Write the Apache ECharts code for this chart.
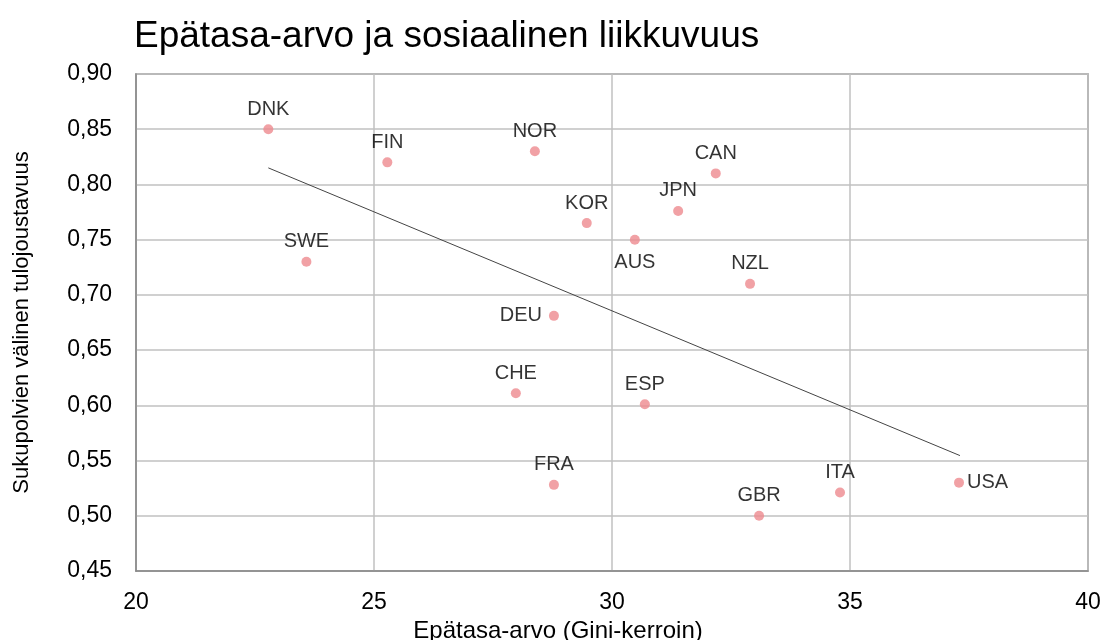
<!DOCTYPE html>
<html>
<head>
<meta charset="utf-8">
<script src="https://cdn.jsdelivr.net/npm/echarts@6/dist/echarts.min.js"></script>
<style>html,body{margin:0;padding:0;background:#fff}#c{width:1105px;height:640px}</style>
</head>
<body>
<div id="c"></div>
<script>
const countries = ['DNK','FIN','NOR','CAN','JPN','KOR','AUS','SWE','NZL','DEU','CHE','ESP','FRA','ITA','USA','GBR'];
const gini      = [22.78, 25.28, 28.38, 32.18, 31.39, 29.47, 30.48, 23.58, 32.9, 28.78, 27.98, 30.69, 28.78, 34.79, 37.29, 33.09];
const mobility  = [0.850, 0.820, 0.830, 0.810, 0.776, 0.765, 0.750, 0.730, 0.710, 0.681, 0.611, 0.601, 0.528, 0.521, 0.530, 0.500];
const trendX    = [22.78, 37.31];
const trendY    = [0.815, 0.5545];
const yTicks    = [0.45, 0.50, 0.55, 0.60, 0.65, 0.70, 0.75, 0.80, 0.85, 0.90];
const xTicks    = [20, 25, 30, 35, 40];

const FONT = '"Liberation Sans", Arial, sans-serif';
const special = {AUS:{position:'bottom',distance:8}, DEU:{position:'left',distance:7}, USA:{position:'right',distance:3}};

const pts = countries.map((c,i)=>{
  const o = {value:[gini[i], mobility[i]], name:c};
  if (special[c]) o.label = special[c];
  return o;
});

const chart = echarts.init(document.getElementById('c'));
chart.setOption({
  animation:false,
  title:{text:'Epätasa-arvo ja sosiaalinen liikkuvuus', left:129, top:13,
    textStyle:{fontFamily:FONT, fontSize:37, fontWeight:'normal', color:'#000'}},
  grid:{left:136, right:17, top:74, bottom:69, show:true, borderColor:'#888', borderWidth:1.5,
    containLabel:false, outerBoundsMode:'none'},
  xAxis:{type:'value', min:xTicks[0], max:xTicks[xTicks.length-1], interval:5,
    name:'Epätasa-arvo (Gini-kerroin)', nameLocation:'middle', nameGap:45,
    nameTextStyle:{fontFamily:FONT, fontSize:24, color:'#000', padding:[0,108,0,0]},
    axisLine:{show:true, lineStyle:{color:'#888', width:1.5}}, axisTick:{show:false},
    axisLabel:{fontFamily:FONT, fontSize:23, color:'#000', margin:20},
    splitLine:{show:true, lineStyle:{color:'#c0c0c0', width:1.5}}},
  yAxis:{type:'value', min:yTicks[0], max:yTicks[yTicks.length-1], interval:0.05,
    name:'Sukupolvien välinen tulojoustavuus', nameLocation:'middle', nameGap:103,
    nameTextStyle:{fontFamily:FONT, fontSize:22, color:'#000'},
    axisLine:{show:true, lineStyle:{color:'#888', width:1.5}}, axisTick:{show:false},
    axisLabel:{fontFamily:FONT, fontSize:23, color:'#000', margin:24,
      formatter:v=>v.toFixed(2).replace('.',',')},
    splitLine:{show:true, lineStyle:{color:'#c0c0c0', width:1.5}}},
  series:[
    {type:'line', data:trendX.map((x,i)=>[x,trendY[i]]), symbol:'none',
      lineStyle:{color:'#444', width:1}, silent:true, z:1},
    {type:'scatter', data:pts, symbolSize:10, itemStyle:{color:'#ee8a8e'}, z:3,
      label:{show:true, position:'top', distance:5, formatter:p=>p.name,
        fontFamily:FONT, fontSize:20, color:'#000'}}
  ]
});
</script>
</body>
</html>
